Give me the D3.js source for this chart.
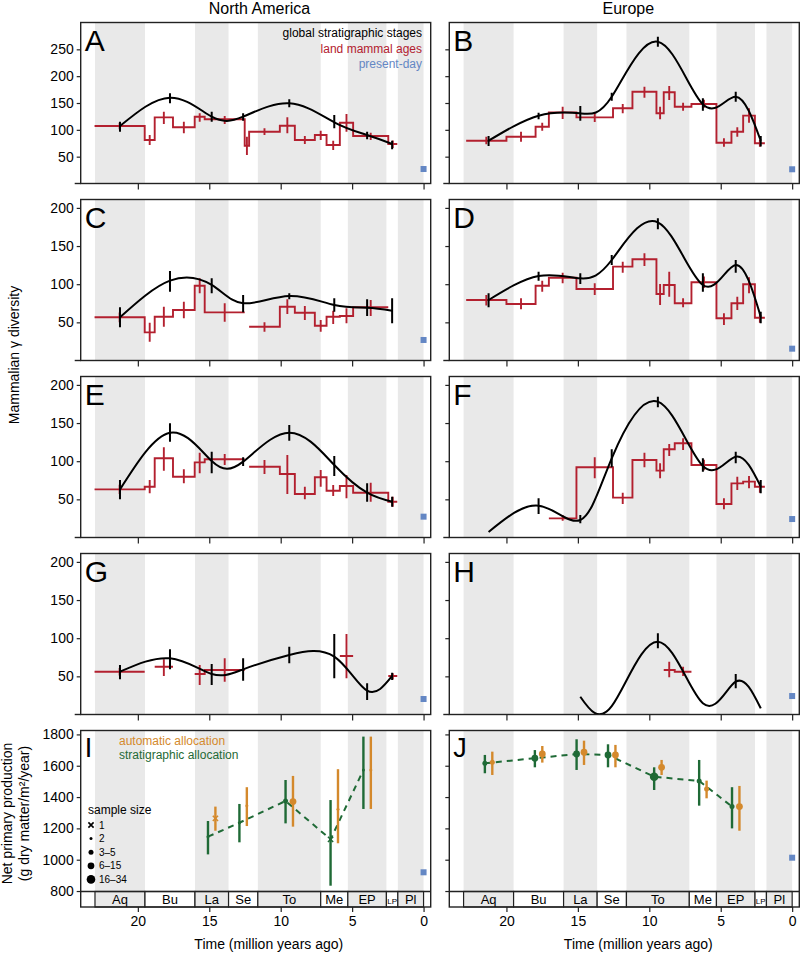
<!DOCTYPE html>
<html><head><meta charset="utf-8">
<script src="https://cdn.jsdelivr.net/npm/d3@7"></script>
<style>
body{margin:0;background:#fff}
svg{display:block}
text{font-family:"Liberation Sans",Arial,Helvetica,sans-serif}
</style>
</head><body>
<svg id="chart" width="802" height="954"></svg>
<script>
// ---------------- DATA ----------------
// global stratigraphic stages (Ma)
const stageNames = ["Aq","Bu","La","Se","To","Me","EP","LP","Pl"];
const stageOld   = [23.0,19.5,16.0,13.65,11.6,7.2,5.3,2.6,1.8];
const stageYoung = [19.5,16.0,13.65,11.6,7.2,5.3,2.6,1.8,0];
const stageMid   = [21.25,17.75,14.83,12.63,9.4,6.25,3.95,2.2];
const xTicks = [20,15,10,5,0];

// land mammal ages (Ma)
const naAgeOld   = [23.03,19.52,18.82,17.54,16.02,15.32,12.52,12.21,10.06,9.01,7.61,6.79,5.86,4.93,2.47];
const naAgeYoung = [19.52,18.82,17.54,16.02,15.32,12.52,12.21,10.06,9.01,7.61,6.79,5.86,4.93,2.47,1.84];
const euAgeOld   = [22.82,20.0,17.96,17.03,15.1,12.54,11.18,9.5,8.99,8.22,7.05,5.3,4.25,3.43,2.61];
const euAgeYoung = [20.0,17.96,17.03,15.1,12.54,11.18,9.5,8.99,8.22,7.05,5.3,4.25,3.43,2.61,1.91];

// Panel A (North America)
const blackA = [107.1,159.9,124.5,124.5,149.4,114,90.4,73.6];
const blackA_lo = [96.5,149.4,115.2,117,142,102.8,82.3,63.7];
const blackA_hi = [115.2,168,133.8,130.8,156.9,127.6,96.5,79.7];
const redA = [107.1,81,123.3,104.7,124.5,119.6,70.4,96.5,107.7,81,90.4,71.7,113.3,88.5,73.6];
const redA_lo = [101,71.7,110.9,93.5,115.2,110.9,53.1,90.4,93.5,73.6,81,62.4,96.5,81,66];
const redA_hi = [113,90.4,133.8,115.2,130.8,125.8,87.2,102.8,123.3,88.5,98.4,79.7,129.5,94.7,80];
// Panel B (Europe)
const blackB = [79.7,126.4,130.8,161.7,264.2,147.6,161.7,79.7];
const blackB_lo = [69.9,119.6,117,154.3,254.9,135.6,152.4,69];
const blackB_hi = [88.5,131.9,144.4,169.2,273.5,158.7,171,88.5];
const redB = [79.7,87.2,105.8,132.6,123.3,140.1,171,130.8,169.9,143.1,148.1,76,96.5,126.4,74.9];
const redB_lo = [73,77.9,98.4,120.2,114.6,130.8,159.9,119.6,155.6,135.6,141,68.6,87.2,113.3,68.6];
const redB_hi = [87,96.5,113.3,143.1,131.9,148.1,180.4,143.1,181.7,150.6,156,84.2,104.7,140.1,81];
// Panel C
const blackC = [56.6,104.6,99,75,84.5,72.7,69.2,65.3];
const blackC_lo = [43.5,90.2,88,63.2,80.2,64,58.3,48.8];
const blackC_hi = [69.7,117.3,107.7,85.8,88,81.5,80.2,81.5];
const redC = [56.6,36.9,57.4,66.2,98,63.1,null,44.3,70.5,62.6,45.6,57.4,58.3,69.7,null];
const redC_lo = [50,24.7,44.3,55.3,88,50.9,null,37.7,60.9,53.1,37.7,47.8,48.8,58.3,null];
const redC_hi = [63,49.6,70.5,77.1,107.7,75,null,50,80.2,71.4,53.1,65.3,68.4,79.3,null];
// Panel D
const blackD = [79.3,110.7,107.7,131.7,181.1,99,125.2,57.4];
const blackD_lo = [69.7,104.6,100.3,125.2,172,90.2,115.1,48.8];
const blackD_hi = [88,116.4,114.3,138.3,186.4,114.3,131.7,64];
const redD = [79.3,74,98,108.5,93.7,123,132.6,87.2,99,75,102.5,55.3,75,99.9,56.1];
const redD_lo = [72,67.1,90.2,101.2,85.8,115.1,123.9,72.7,83.6,69.7,95,46.5,66.2,88,49.5];
const redD_hi = [86,81.5,104.6,115.1,101.2,129.5,140.5,100.3,116.4,81.5,110,61.9,83.6,109,62.6];
// Panel E
const blackE = [63.1,137.4,100.3,99.4,137.4,95,58.7,46.9];
const blackE_lo = [50.1,125.6,84.1,93.7,126.9,80.6,46.9,40.4];
const blackE_hi = [75.4,149.7,112.5,105.1,147.4,106.8,71,53.5];
const redE = [63.1,66.6,103.8,79.7,98.5,102.5,null,92.8,83.2,57,78.9,61.3,67.5,58.7,46.9];
const redE_lo = [57,57.9,87.5,71,84.1,95,null,83.2,57,50.1,66.6,54.4,51.4,46.9,40.4];
const redE_hi = [69,75.4,118.2,89.4,111.1,109.4,null,101.6,108.1,66.6,88.5,68.8,81.9,71.8,53.5];
// Panel F
const blackF = [7.2,41.7,22.9,103.8,178,93.7,105.9,66.6];
const blackF_lo = [null,30.8,18.6,92,170.6,86.2,97.2,57.9];
const blackF_hi = [null,51.4,29.5,115.6,184.5,103.8,112.5,75.4];
const redF = [null,null,null,25.1,92,52.2,101.6,87.6,115.6,123.5,95,43.9,71,73.2,66.6];
const redF_lo = [null,null,null,22,77.6,43.9,92,77.6,106.8,114.7,88,37,62.3,64.5,58.7];
const redF_hi = [null,null,null,29.5,105.1,58.7,111.1,97.2,122.5,130,102,51.4,79.7,80.6,73.2];
// Panel G
const blackG = [56.1,73.6,53.1,59.2,78,75.8,31.2,50.5];
const blackG_lo = [46.1,59.2,38.7,44.3,67.1,47.4,19,45.2];
const blackG_hi = [64.9,85.4,66.2,73.6,88.9,105.5,40.9,54.8];
const redG = [56.1,null,62.6,null,53.1,58.3,null,null,null,null,null,null,76.7,null,50.5];
const redG_lo = [51,null,50.5,null,38.7,43,null,null,null,null,null,null,47.4,null,46];
const redG_hi = [61,null,72.3,null,64.9,73.6,null,null,null,null,null,null,105.5,null,54];
// Panel H
const blackH = [null,null,23.3,11,95.4,14.7,43,8.1];
const blackH_lo = [null,null,null,null,86.8,null,34.3,null];
const blackH_hi = [null,null,null,null,106.4,null,53.1,null];
const redH = [null,null,null,null,null,null,null,null,58.3,56.1,null,null,null,null,null];
const redH_lo = [null,null,null,null,null,null,null,null,48.8,50.5,null,null,null,null,null];
const redH_hi = [null,null,null,null,null,null,null,null,69.2,62.6,null,null,null,null,null];

// present-day diversity / NPP
const presentNA = [27, 26.9, 27.3, 20.3, 919.6];
const presentEU = [26.5, 15.5, 24.2, 24.2, 1012.8];

// Panels I & J: net primary production
const nppStagesI = [2,3,4,5,6];
const stratI = [1147,1236,1375,1130,1573];
const stratI_lo = [1034,1111,1232,834,1324];
const stratI_hi = [1247,1356,1509,1381,1786];
const stratI_n = [2,2,4,1,2];
const autoI = [1264,1345,1371,1322,1573];
const autoI_lo = [1185,1215,1211,1105,1324];
const autoI_hi = [1339,1463,1535,1578,1786];
const autoI_n = [1,2,8,2,2];

const nppStagesJ = [0,1,2,3,4,5,6];
const stratJ = [1616,1648,1675,1669,1530,1503,1339];
const stratJ_lo = [1552,1590,1573,1590,1445,1345,1200];
const stratJ_hi = [1669,1700,1769,1737,1590,1637,1463];
const stratJ_n = [4,8,10,10,20,4,4];
const autoJ = [1622,1675,1686,1669,1590,1452,1339];
const autoJ_lo = [1541,1620,1605,1590,1541,1392,1185];
const autoJ_hi = [1690,1726,1760,1733,1637,1505,1471];
const autoJ_n = [4,8,8,8,8,3,8];

const sizeLabels = ["1","2","3\u20135","6\u201315","16\u201334"];
const sizeExamples = [1,2,4,10,20];

const divTicksAB = [50,100,150,200,250];
const divTicks = [50,100,150,200];
const nppTicks = [800,1000,1200,1400,1600,1800];

// ---------------- STYLE / LAYOUT ----------------
const RED = "#b3202f", BLUE = "#6487c4", ORANGE = "#d4892c", GREEN = "#1f6a36", GREY = "#e9e9e9";
const colX = [[80.7,430.7],[449.3,799.3]];
const rowTop = [22.5,199.5,376.5,553.5,730.5];
const rowH = 161;
const bandH = 15.5;

const svg = d3.select("#chart");
const defs = svg.append("defs");

function radiusFor(n){ if(n<=1) return 0; if(n===2) return 1.5; if(n<=5) return 2.5; if(n<=15) return 3.4; return 4.3; }

function drawMarker(g, cx, cy, n, color){
  if(n<=1){
    const s=2.6;
    g.append("path").attr("d",`M${cx-s},${cy-s}L${cx+s},${cy+s}M${cx-s},${cy+s}L${cx+s},${cy-s}`)
      .attr("stroke",color).attr("stroke-width",1.6).attr("fill","none");
  } else {
    g.append("circle").attr("cx",cx).attr("cy",cy).attr("r",radiusFor(n)).attr("fill",color);
  }
}

const divPanels = [
  {L:"A",col:0,row:0,ymax:300,ticks:divTicksAB,bk:blackA,bl:blackA_lo,bh:blackA_hi,rd:redA,rl:redA_lo,rh:redA_hi,old:naAgeOld,young:naAgeYoung,pres:presentNA[0]},
  {L:"B",col:1,row:0,ymax:300,ticks:divTicksAB,bk:blackB,bl:blackB_lo,bh:blackB_hi,rd:redB,rl:redB_lo,rh:redB_hi,old:euAgeOld,young:euAgeYoung,pres:presentEU[0]},
  {L:"C",col:0,row:1,ymax:211,ticks:divTicks,bk:blackC,bl:blackC_lo,bh:blackC_hi,rd:redC,rl:redC_lo,rh:redC_hi,old:naAgeOld,young:naAgeYoung,pres:presentNA[1]},
  {L:"D",col:1,row:1,ymax:211,ticks:divTicks,bk:blackD,bl:blackD_lo,bh:blackD_hi,rd:redD,rl:redD_lo,rh:redD_hi,old:euAgeOld,young:euAgeYoung,pres:presentEU[1]},
  {L:"E",col:0,row:2,ymax:211,ticks:divTicks,bk:blackE,bl:blackE_lo,bh:blackE_hi,rd:redE,rl:redE_lo,rh:redE_hi,old:naAgeOld,young:naAgeYoung,pres:presentNA[2]},
  {L:"F",col:1,row:2,ymax:211,ticks:divTicks,bk:blackF,bl:blackF_lo,bh:blackF_hi,rd:redF,rl:redF_lo,rh:redF_hi,old:euAgeOld,young:euAgeYoung,pres:presentEU[2]},
  {L:"G",col:0,row:3,ymax:211,ticks:divTicks,bk:blackG,bl:blackG_lo,bh:blackG_hi,rd:redG,rl:redG_lo,rh:redG_hi,old:naAgeOld,young:naAgeYoung,pres:presentNA[3]},
  {L:"H",col:1,row:3,ymax:211,ticks:divTicks,bk:blackH,bl:blackH_lo,bh:blackH_hi,rd:redH,rl:redH_lo,rh:redH_hi,old:euAgeOld,young:euAgeYoung,pres:presentEU[3]}
];

function makeX(col){ return d3.scaleLinear().domain([24,-0.5]).range(colX[col]); }

function drawFrameAndAxes(g, x, y, col, top, bottom, ticks, showXLabels, extendLeft){
  const [x0,x1] = colX[col];
  const ya = d3.axisLeft(y).tickValues(ticks).tickSize(4).tickSizeOuter(0).tickPadding(3)
    .tickFormat(col===0 ? d3.format("d") : ()=>"");
  const yg = g.append("g").attr("transform",`translate(${x0},0)`).call(ya);
  yg.select(".domain").remove();
  yg.selectAll("text").attr("font-size",14).attr("fill","#000").style("font-family","'Liberation Sans',Arial,sans-serif");
  yg.selectAll("line").attr("stroke","#222").attr("stroke-width",1.2);
  const xa = d3.axisBottom(x).tickValues(xTicks).tickSize(showXLabels?5:6).tickSizeOuter(0).tickPadding(4)
    .tickFormat(showXLabels ? d3.format("d") : ()=>"");
  const xg = g.append("g").attr("transform",`translate(0,${bottom})`).call(xa);
  xg.select(".domain").remove();
  xg.selectAll("text").attr("font-size",14).attr("fill","#000").style("font-family","'Liberation Sans',Arial,sans-serif");
  xg.selectAll("line").attr("stroke","#222").attr("stroke-width",1.2);
  g.append("rect").attr("x",x0).attr("y",top).attr("width",x1-x0).attr("height",bottom-top)
    .attr("fill","none").attr("stroke","#222").attr("stroke-width",1.4);
  if(extendLeft){
    g.append("line").attr("x1",x0-6).attr("x2",x0).attr("y1",bottom).attr("y2",bottom)
      .attr("stroke","#222").attr("stroke-width",1.4);
  }
}

function greyBands(g, x, top, bottom){
  stageNames.forEach((s,i)=>{
    if(i%2===0){
      g.append("rect").attr("x",x(stageOld[i])).attr("y",top)
        .attr("width",x(stageYoung[i])-x(stageOld[i])).attr("height",bottom-top).attr("fill",GREY);
    }
  });
}

divPanels.forEach((p,pi)=>{
  const top = rowTop[p.row], bottom = top+rowH;
  const x = makeX(p.col);
  const y = d3.scaleLinear().domain([0,p.ymax]).range([bottom,top]);
  const g = svg.append("g");
  const cid = "clip"+p.L;
  defs.append("clipPath").attr("id",cid).append("rect")
    .attr("x",colX[p.col][0]).attr("y",top).attr("width",colX[p.col][1]-colX[p.col][0]).attr("height",rowH);
  greyBands(g,x,top,bottom);
  const pg = g.append("g").attr("clip-path",`url(#${cid})`);

  const pts = [];
  p.rd.forEach((v,i)=>{
    if(v===null){ pts.push(null); return; }
    if(i>0 && (p.rd[i-1]===null || p.young[i-1]!==p.old[i])) pts.push(null);
    pts.push([p.old[i],v]); pts.push([p.young[i],v]);
  });
  const stepLine = d3.line().defined(d=>d!==null).x(d=>x(d[0])).y(d=>y(d[1]));
  pg.append("path").attr("d",stepLine(pts)).attr("fill","none").attr("stroke",RED).attr("stroke-width",1.9);
  p.rd.forEach((v,i)=>{
    if(v===null || p.rl[i]===null) return;
    const xm = x((p.old[i]+p.young[i])/2);
    pg.append("line").attr("x1",xm).attr("x2",xm).attr("y1",y(p.rl[i])).attr("y2",y(p.rh[i]))
      .attr("stroke",RED).attr("stroke-width",1.9);
  });

  const bpts = p.bk.map((v,i)=>v===null?null:[stageMid[i],v]).filter(d=>d!==null);
  const curve = d3.line().x(d=>x(d[0])).y(d=>y(d[1])).curve(d3.curveNatural);
  pg.append("path").attr("d",curve(bpts)).attr("fill","none").attr("stroke","#000").attr("stroke-width",2);
  p.bk.forEach((v,i)=>{
    if(v===null || p.bl[i]===null) return;
    pg.append("line").attr("x1",x(stageMid[i])).attr("x2",x(stageMid[i]))
      .attr("y1",y(p.bl[i])).attr("y2",y(p.bh[i])).attr("stroke","#000").attr("stroke-width",2);
  });

  g.append("rect").attr("x",x(0)-3).attr("y",y(p.pres)-3).attr("width",6).attr("height",6).attr("fill",BLUE);

  drawFrameAndAxes(g,x,y,p.col,top,bottom,p.ticks,false,true);

  g.append("text").attr("x",colX[p.col][0]+4).attr("y",top+28.5).attr("font-size",30).text(p.L);
});

const legA = [["global stratigraphic stages","#000"],["land mammal ages",RED],["present-day",BLUE]];
legA.forEach((d,i)=>{
  svg.append("text").attr("x",422).attr("y",37+i*15.5).attr("text-anchor","end")
    .attr("font-size",12).attr("fill",d[1]).text(d[0]);
});

const nppPanels = [
  {L:"I",col:0,st:nppStagesI,s:stratI,sl:stratI_lo,sh:stratI_hi,sn:stratI_n,a:autoI,al:autoI_lo,ah:autoI_hi,an:autoI_n,pres:presentNA[4]},
  {L:"J",col:1,st:nppStagesJ,s:stratJ,sl:stratJ_lo,sh:stratJ_hi,sn:stratJ_n,a:autoJ,al:autoJ_lo,ah:autoJ_hi,an:autoJ_n,pres:presentEU[4]}
];
nppPanels.forEach(p=>{
  const top = rowTop[4], dataBottom = top+rowH, bottom = dataBottom+bandH;
  const x = makeX(p.col);
  const y = d3.scaleLinear().domain([797,1825]).range([dataBottom,top]);
  const g = svg.append("g");
  greyBands(g,x,top,dataBottom);
  const [x0,x1] = colX[p.col];
  stageNames.forEach((s,i)=>{
    g.append("rect").attr("x",x(stageOld[i])).attr("y",dataBottom)
      .attr("width",x(stageYoung[i])-x(stageOld[i])).attr("height",bandH)
      .attr("fill",i%2===0?GREY:"#fff").attr("stroke","#222").attr("stroke-width",1.2);
    g.append("text").attr("x",(x(stageOld[i])+x(stageYoung[i]))/2).attr("y",dataBottom+12)
      .attr("text-anchor","middle").attr("font-size",s==="LP"?8:13).text(s);
  });
  g.append("line").attr("x1",x0).attr("x2",x1).attr("y1",dataBottom).attr("y2",dataBottom).attr("stroke","#222").attr("stroke-width",1.3);

  const off = 0.26;
  const dl = d3.line().x(d=>x(d[0])).y(d=>y(d[1]));
  const gpts = p.st.map((si,k)=>[stageMid[si]+off,p.s[k]]);
  g.append("path").attr("d",dl(gpts)).attr("fill","none").attr("stroke",GREEN).attr("stroke-width",2).attr("stroke-dasharray","6,5");
  p.st.forEach((si,k)=>{
    const xs = x(stageMid[si]+off), xa = x(stageMid[si]-off);
    g.append("line").attr("x1",xa).attr("x2",xa).attr("y1",y(p.al[k])).attr("y2",y(p.ah[k])).attr("stroke",ORANGE).attr("stroke-width",2.4);
    g.append("line").attr("x1",xs).attr("x2",xs).attr("y1",y(p.sl[k])).attr("y2",y(p.sh[k])).attr("stroke",GREEN).attr("stroke-width",2.4);
    drawMarker(g,xa,y(p.a[k]),p.an[k],ORANGE);
    drawMarker(g,xs,y(p.s[k]),p.sn[k],GREEN);
  });
  g.append("rect").attr("x",x(0)-3).attr("y",y(p.pres)-3).attr("width",6).attr("height",6).attr("fill",BLUE);

  drawFrameAndAxes(g,x,y,p.col,top,bottom,nppTicks,true,false);
  g.append("text").attr("x",x0+4).attr("y",top+26).attr("font-size",27).text(p.L);
});

svg.append("text").attr("x",119).attr("y",745).attr("font-size",12).attr("fill",ORANGE).text("automatic allocation");
svg.append("text").attr("x",119).attr("y",759).attr("font-size",12).attr("fill",GREEN).text("stratigraphic allocation");
svg.append("text").attr("x",88).attr("y",813.5).attr("font-size",12).text("sample size");
const legSz = svg.append("g");
sizeLabels.forEach((lab,i)=>{
  const cy = 825 + i*13.6;
  drawMarker(legSz,91,cy,sizeExamples[i],"#000");
  legSz.append("text").attr("x",99).attr("y",cy+3.5).attr("font-size",10).text(lab);
});

svg.append("text").attr("x",259.5).attr("y",13.5).attr("text-anchor","middle").attr("font-size",16).text("North America");
svg.append("text").attr("x",628.3).attr("y",13.5).attr("text-anchor","middle").attr("font-size",16).text("Europe");
svg.append("text").attr("x",268.8).attr("y",949).attr("text-anchor","middle").attr("font-size",14).text("Time (million years ago)");
svg.append("text").attr("x",638.3).attr("y",949).attr("text-anchor","middle").attr("font-size",14).text("Time (million years ago)");
svg.append("text").attr("transform","translate(19,355) rotate(-90)").attr("text-anchor","middle").attr("font-size",14).text("Mammalian \u03b3 diversity");
svg.append("text").attr("transform","translate(12,813.5) rotate(-90)").attr("text-anchor","middle").attr("font-size",14).text("Net primary production");
svg.append("text").attr("transform","translate(28.5,813.5) rotate(-90)").attr("text-anchor","middle").attr("font-size",14)
  .text("(g dry matter/m\u00b2/year)");
</script>
</body></html>
